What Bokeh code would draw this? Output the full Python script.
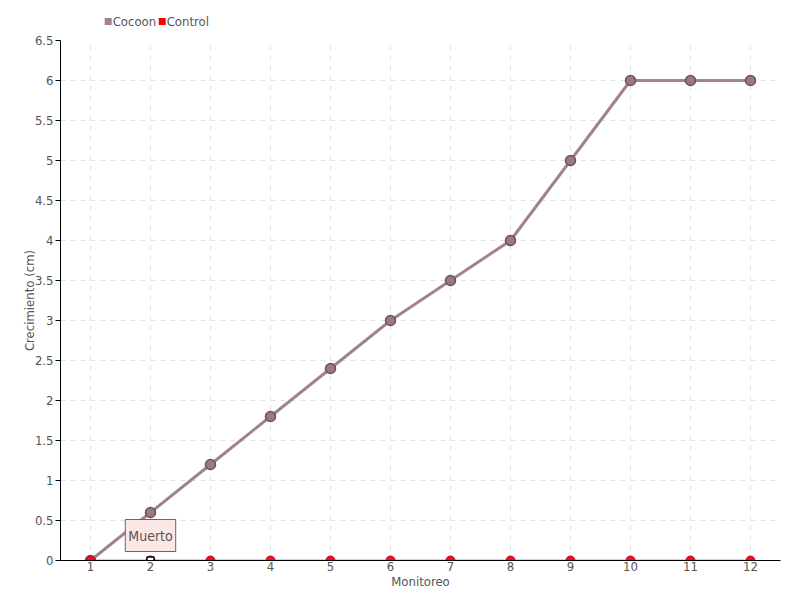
from bokeh.plotting import figure
from bokeh.models import Range1d, FixedTicker, Label
from bokeh.layouts import column
from bokeh.core.properties import value
from bokeh.embed import file_html
from bokeh.resources import INLINE

monitoreo = [1, 2, 3, 4, 5, 6, 7, 8, 9, 10, 11, 12]
cocoon = [0, 0.6, 1.2, 1.8, 2.4, 3.0, 3.5, 4.0, 5.0, 6.0, 6.0, 6.0]
control = [0, 0, 0, 0, 0, 0, 0, 0, 0, 0, 0, 0]
y_ticks = [0, 0.5, 1, 1.5, 2, 2.5, 3, 3.5, 4, 4.5, 5, 5.5, 6, 6.5]
y_tick_labels = ["0", "0.5", "1", "1.5", "2", "2.5", "3", "3.5", "4", "4.5", "5", "5.5", "6", "6.5"]
series_names = ["Cocoon", "Control"]
series_colors = ["#a08488", "#ff0000"]
note_x = 2
note_y = 0
note_text = "Muerto"

FONT = "'DejaVu Sans Condensed', Lato, sans-serif"
TXT = "#555555"

# legend strip (drawn above the chart)
lg = figure(width=800, height=30, output_backend="svg", toolbar_location=None,
            x_range=Range1d(0, 800), y_range=Range1d(0, 30),
            x_axis_location=None, y_axis_location=None, min_border=0)
lg.grid.visible = False
lg.outline_line_color = None
lg.scatter([53, 113], [9, 9], marker="square", size=7, fill_color=series_colors, line_color=None)
lg.text([58, 118], [9, 9], text=series_names, text_baseline="middle", text_align="left",
        text_font=value(FONT), text_font_size="13px", text_color=TXT)

p = figure(width=800, height=570, output_backend="svg", toolbar_location=None,
           x_range=Range1d(0.5, 12.5), y_range=Range1d(0, 6.5),
           min_border_left=60, min_border_right=20, min_border_top=10, min_border_bottom=40)
p.outline_line_color = None
p.background_fill_color = "white"

p.xaxis.ticker = FixedTicker(ticks=monitoreo)
p.yaxis.ticker = FixedTicker(ticks=y_ticks)
p.yaxis.major_label_overrides = {t: l for t, l in zip(y_ticks, y_tick_labels)}
p.xaxis.axis_label = "Monitoreo"
p.yaxis.axis_label = "Crecimiento (cm)"
for ax in (p.xaxis[0], p.yaxis[0]):
    ax.axis_label_text_font = FONT
    ax.axis_label_text_font_style = "normal"
    ax.axis_label_text_font_size = "13px"
    ax.axis_label_text_color = TXT
    ax.major_label_text_font = FONT
    ax.major_label_text_font_size = "13px"
    ax.major_label_text_color = TXT
    ax.axis_line_color = "black"
    ax.minor_tick_line_color = None
    ax.major_tick_line_color = "black"
p.xaxis.major_tick_out = 0
p.xaxis.major_tick_in = 0
p.xaxis.major_label_standoff = 1
p.xaxis.axis_label_standoff = 0
p.yaxis.major_tick_out = 5
p.yaxis.major_tick_in = 0
p.yaxis.major_label_standoff = 2
p.yaxis.axis_label_standoff = -5

p.grid.grid_line_color = "#e2e2e2"
p.grid.grid_line_dash = "5 5"

p.line(monitoreo, cocoon, line_color=series_colors[0], line_width=3)
p.scatter(monitoreo, cocoon, size=10, fill_color="#9a7a80", line_color="#6e5258", line_width=1.5)
p.line(monitoreo, control, line_color=series_colors[1], line_width=1.5)
p.scatter(monitoreo, control, size=9, fill_color="#e8102a", line_color="#c80020", line_width=1)

p.scatter([note_x], [note_y], marker="square", size=7, fill_color="white", line_color="black", line_width=1.5)
lab = Label(x=note_x, y=note_y, text=note_text, x_units="data", y_units="data",
            y_offset=9, text_align="center", text_baseline="bottom",
            text_font=FONT, text_font_size="14px", text_color=TXT,
            background_fill_color="#fde6e6", border_line_color="#666666",
            padding=(3, 8))
p.add_layout(lab)

layout = column(lg, p, spacing=0)
open("out.html", "w").write(file_html(layout, INLINE))
